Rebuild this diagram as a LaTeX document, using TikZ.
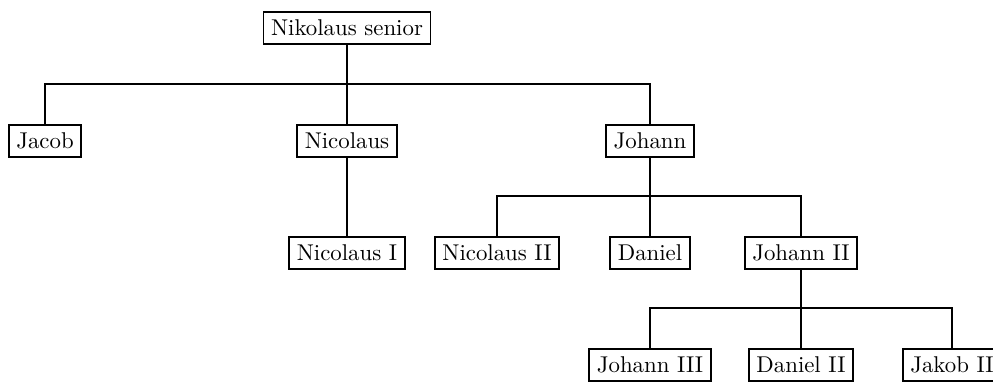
\documentclass[tikz,border=0pt]{standalone}
\begin{document}
\begin{tikzpicture}[x=0.438pt,y=-0.438pt,
  person/.style={draw,thick,fill=white,inner sep=0.3333em},
  edge/.style={thick}]
\useasboundingbox (0,0) rectangle (993,381);
\coordinate (b0) at (347,84);
\coordinate (b1) at (650,196);
\coordinate (b2) at (801,308);
\node[person] (ns) at (347,28) {Nikolaus senior};
\node[person] (jacob) at (45,141) {Jacob};
\node[person] (nic) at (347,141) {Nicolaus};
\node[person] (joh) at (650,141) {Johann};
\node[person] (nic1) at (347,253) {Nicolaus I};
\node[person] (nic2) at (497,253) {Nicolaus II};
\node[person] (dan) at (650,253) {Daniel};
\node[person] (joh2) at (801,253) {Johann II};
\node[person] (joh3) at (650,365) {Johann III};
\node[person] (dan2) at (801,365) {Daniel II};
\node[person] (jak2) at (952,365) {Jakob II};
\draw[edge] (ns.south) -- (b0) -| (jacob.north);
\draw[edge] (ns.south) -- (b0) -- (nic.north);
\draw[edge] (ns.south) -- (b0) -| (joh.north);
\draw[edge] (nic.south) -- (nic1.north);
\draw[edge] (joh.south) -- (b1) -| (nic2.north);
\draw[edge] (joh.south) -- (b1) -- (dan.north);
\draw[edge] (joh.south) -- (b1) -| (joh2.north);
\draw[edge] (joh2.south) -- (b2) -| (joh3.north);
\draw[edge] (joh2.south) -- (b2) -- (dan2.north);
\draw[edge] (joh2.south) -- (b2) -| (jak2.north);
\end{tikzpicture}
\end{document}
